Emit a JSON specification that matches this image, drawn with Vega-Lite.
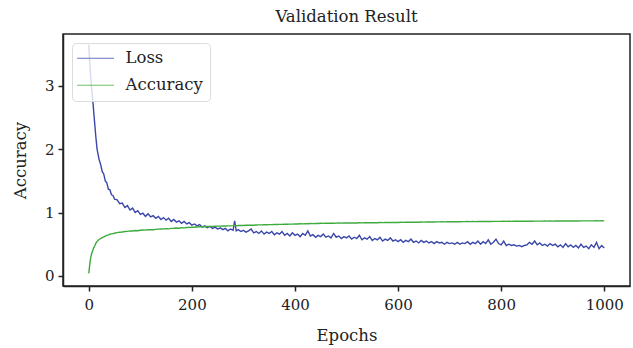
{
"$schema":"https://vega.github.io/schema/vega-lite/v6.json",
"width":567,"height":252,
"autosize":"none",
"padding":{"left":63,"top":34,"right":3,"bottom":62},
"title":{"text":"Validation Result","font":"DejaVu Serif","fontSize":16.5,"fontWeight":"normal","color":"#222","offset":9,"anchor":"middle"},
"data":{"values":[
{"epoch":0,"Loss":3.65,"Accuracy":0.04},
{"epoch":1,"Loss":3.50,"Accuracy":0.11},
{"epoch":2,"Loss":3.36,"Accuracy":0.19},
{"epoch":3,"Loss":3.22,"Accuracy":0.25},
{"epoch":4,"Loss":3.10,"Accuracy":0.30},
{"epoch":6,"Loss":2.92,"Accuracy":0.36},
{"epoch":8,"Loss":2.75,"Accuracy":0.41},
{"epoch":10,"Loss":2.55,"Accuracy":0.45},
{"epoch":12,"Loss":2.36,"Accuracy":0.48},
{"epoch":14,"Loss":2.17,"Accuracy":0.52},
{"epoch":16,"Loss":2.01,"Accuracy":0.54},
{"epoch":18,"Loss":1.92,"Accuracy":0.56},
{"epoch":20,"Loss":1.84,"Accuracy":0.575},
{"epoch":23,"Loss":1.76,"Accuracy":0.59},
{"epoch":26,"Loss":1.65,"Accuracy":0.603},
{"epoch":29,"Loss":1.61,"Accuracy":0.615},
{"epoch":32,"Loss":1.50,"Accuracy":0.628},
{"epoch":35,"Loss":1.47,"Accuracy":0.64},
{"epoch":38,"Loss":1.37,"Accuracy":0.648},
{"epoch":41,"Loss":1.36,"Accuracy":0.657},
{"epoch":44,"Loss":1.28,"Accuracy":0.663},
{"epoch":47,"Loss":1.27,"Accuracy":0.668},
{"epoch":50,"Loss":1.21,"Accuracy":0.673},
{"epoch":55,"Loss":1.20,"Accuracy":0.682},
{"epoch":60,"Loss":1.14,"Accuracy":0.69},
{"epoch":65,"Loss":1.15,"Accuracy":0.692},
{"epoch":70,"Loss":1.08,"Accuracy":0.70},
{"epoch":75,"Loss":1.11,"Accuracy":0.703},
{"epoch":80,"Loss":1.04,"Accuracy":0.71},
{"epoch":85,"Loss":1.07,"Accuracy":0.708},
{"epoch":90,"Loss":1.00,"Accuracy":0.716},
{"epoch":95,"Loss":1.03,"Accuracy":0.713},
{"epoch":100,"Loss":0.97,"Accuracy":0.72},
{"epoch":105,"Loss":0.99,"Accuracy":0.724},
{"epoch":110,"Loss":0.94,"Accuracy":0.722},
{"epoch":115,"Loss":0.98,"Accuracy":0.728},
{"epoch":120,"Loss":0.93,"Accuracy":0.731},
{"epoch":125,"Loss":0.95,"Accuracy":0.729},
{"epoch":130,"Loss":0.91,"Accuracy":0.735},
{"epoch":135,"Loss":0.94,"Accuracy":0.738},
{"epoch":140,"Loss":0.89,"Accuracy":0.74},
{"epoch":145,"Loss":0.92,"Accuracy":0.742},
{"epoch":150,"Loss":0.88,"Accuracy":0.745},
{"epoch":155,"Loss":0.91,"Accuracy":0.743},
{"epoch":160,"Loss":0.86,"Accuracy":0.75},
{"epoch":165,"Loss":0.89,"Accuracy":0.752},
{"epoch":170,"Loss":0.85,"Accuracy":0.755},
{"epoch":175,"Loss":0.87,"Accuracy":0.753},
{"epoch":180,"Loss":0.83,"Accuracy":0.76},
{"epoch":185,"Loss":0.86,"Accuracy":0.758},
{"epoch":190,"Loss":0.82,"Accuracy":0.763},
{"epoch":195,"Loss":0.84,"Accuracy":0.766},
{"epoch":200,"Loss":0.80,"Accuracy":0.77},
{"epoch":205,"Loss":0.82,"Accuracy":0.768},
{"epoch":210,"Loss":0.79,"Accuracy":0.772},
{"epoch":215,"Loss":0.81,"Accuracy":0.775},
{"epoch":220,"Loss":0.77,"Accuracy":0.778},
{"epoch":225,"Loss":0.79,"Accuracy":0.776},
{"epoch":230,"Loss":0.76,"Accuracy":0.78},
{"epoch":235,"Loss":0.78,"Accuracy":0.782},
{"epoch":240,"Loss":0.75,"Accuracy":0.781},
{"epoch":245,"Loss":0.77,"Accuracy":0.784},
{"epoch":250,"Loss":0.74,"Accuracy":0.786},
{"epoch":255,"Loss":0.76,"Accuracy":0.785},
{"epoch":260,"Loss":0.73,"Accuracy":0.788},
{"epoch":265,"Loss":0.75,"Accuracy":0.787},
{"epoch":270,"Loss":0.71,"Accuracy":0.79},
{"epoch":275,"Loss":0.74,"Accuracy":0.789},
{"epoch":280,"Loss":0.72,"Accuracy":0.793},
{"epoch":283,"Loss":0.87,"Accuracy":0.80},
{"epoch":286,"Loss":0.71,"Accuracy":0.79},
{"epoch":290,"Loss":0.73,"Accuracy":0.795},
{"epoch":295,"Loss":0.70,"Accuracy":0.797},
{"epoch":300,"Loss":0.72,"Accuracy":0.796},
{"epoch":305,"Loss":0.69,"Accuracy":0.80},
{"epoch":310,"Loss":0.71,"Accuracy":0.799},
{"epoch":315,"Loss":0.74,"Accuracy":0.802},
{"epoch":320,"Loss":0.68,"Accuracy":0.80},
{"epoch":325,"Loss":0.70,"Accuracy":0.804},
{"epoch":330,"Loss":0.67,"Accuracy":0.806},
{"epoch":335,"Loss":0.71,"Accuracy":0.805},
{"epoch":340,"Loss":0.66,"Accuracy":0.808},
{"epoch":345,"Loss":0.69,"Accuracy":0.807},
{"epoch":350,"Loss":0.67,"Accuracy":0.81},
{"epoch":355,"Loss":0.70,"Accuracy":0.809},
{"epoch":360,"Loss":0.65,"Accuracy":0.812},
{"epoch":365,"Loss":0.68,"Accuracy":0.811},
{"epoch":370,"Loss":0.66,"Accuracy":0.814},
{"epoch":375,"Loss":0.70,"Accuracy":0.813},
{"epoch":380,"Loss":0.64,"Accuracy":0.816},
{"epoch":385,"Loss":0.67,"Accuracy":0.815},
{"epoch":390,"Loss":0.63,"Accuracy":0.818},
{"epoch":395,"Loss":0.68,"Accuracy":0.817},
{"epoch":400,"Loss":0.64,"Accuracy":0.82},
{"epoch":405,"Loss":0.66,"Accuracy":0.819},
{"epoch":410,"Loss":0.62,"Accuracy":0.822},
{"epoch":415,"Loss":0.67,"Accuracy":0.821},
{"epoch":420,"Loss":0.64,"Accuracy":0.824},
{"epoch":425,"Loss":0.71,"Accuracy":0.823},
{"epoch":430,"Loss":0.63,"Accuracy":0.826},
{"epoch":435,"Loss":0.65,"Accuracy":0.825},
{"epoch":440,"Loss":0.61,"Accuracy":0.827},
{"epoch":445,"Loss":0.64,"Accuracy":0.828},
{"epoch":450,"Loss":0.62,"Accuracy":0.83},
{"epoch":455,"Loss":0.66,"Accuracy":0.829},
{"epoch":460,"Loss":0.61,"Accuracy":0.831},
{"epoch":465,"Loss":0.63,"Accuracy":0.83},
{"epoch":470,"Loss":0.60,"Accuracy":0.832},
{"epoch":475,"Loss":0.67,"Accuracy":0.831},
{"epoch":480,"Loss":0.61,"Accuracy":0.833},
{"epoch":485,"Loss":0.63,"Accuracy":0.834},
{"epoch":490,"Loss":0.59,"Accuracy":0.833},
{"epoch":495,"Loss":0.62,"Accuracy":0.835},
{"epoch":500,"Loss":0.60,"Accuracy":0.836},
{"epoch":505,"Loss":0.63,"Accuracy":0.834},
{"epoch":510,"Loss":0.58,"Accuracy":0.836},
{"epoch":515,"Loss":0.61,"Accuracy":0.837},
{"epoch":520,"Loss":0.59,"Accuracy":0.835},
{"epoch":525,"Loss":0.64,"Accuracy":0.838},
{"epoch":530,"Loss":0.57,"Accuracy":0.837},
{"epoch":535,"Loss":0.60,"Accuracy":0.839},
{"epoch":540,"Loss":0.58,"Accuracy":0.838},
{"epoch":545,"Loss":0.62,"Accuracy":0.84},
{"epoch":550,"Loss":0.56,"Accuracy":0.839},
{"epoch":555,"Loss":0.59,"Accuracy":0.841},
{"epoch":560,"Loss":0.57,"Accuracy":0.84},
{"epoch":565,"Loss":0.61,"Accuracy":0.842},
{"epoch":570,"Loss":0.55,"Accuracy":0.841},
{"epoch":575,"Loss":0.58,"Accuracy":0.843},
{"epoch":580,"Loss":0.56,"Accuracy":0.842},
{"epoch":585,"Loss":0.60,"Accuracy":0.844},
{"epoch":590,"Loss":0.55,"Accuracy":0.843},
{"epoch":595,"Loss":0.57,"Accuracy":0.845},
{"epoch":600,"Loss":0.54,"Accuracy":0.844},
{"epoch":605,"Loss":0.57,"Accuracy":0.846},
{"epoch":610,"Loss":0.53,"Accuracy":0.845},
{"epoch":615,"Loss":0.56,"Accuracy":0.847},
{"epoch":620,"Loss":0.54,"Accuracy":0.846},
{"epoch":625,"Loss":0.58,"Accuracy":0.848},
{"epoch":630,"Loss":0.53,"Accuracy":0.847},
{"epoch":635,"Loss":0.55,"Accuracy":0.849},
{"epoch":640,"Loss":0.52,"Accuracy":0.848},
{"epoch":645,"Loss":0.56,"Accuracy":0.85},
{"epoch":650,"Loss":0.53,"Accuracy":0.849},
{"epoch":655,"Loss":0.55,"Accuracy":0.851},
{"epoch":660,"Loss":0.52,"Accuracy":0.85},
{"epoch":665,"Loss":0.54,"Accuracy":0.852},
{"epoch":670,"Loss":0.51,"Accuracy":0.851},
{"epoch":675,"Loss":0.54,"Accuracy":0.853},
{"epoch":680,"Loss":0.52,"Accuracy":0.852},
{"epoch":685,"Loss":0.53,"Accuracy":0.854},
{"epoch":690,"Loss":0.50,"Accuracy":0.853},
{"epoch":695,"Loss":0.53,"Accuracy":0.855},
{"epoch":700,"Loss":0.51,"Accuracy":0.854},
{"epoch":705,"Loss":0.52,"Accuracy":0.856},
{"epoch":710,"Loss":0.50,"Accuracy":0.855},
{"epoch":715,"Loss":0.53,"Accuracy":0.856},
{"epoch":720,"Loss":0.50,"Accuracy":0.855},
{"epoch":725,"Loss":0.52,"Accuracy":0.857},
{"epoch":730,"Loss":0.51,"Accuracy":0.856},
{"epoch":735,"Loss":0.54,"Accuracy":0.858},
{"epoch":740,"Loss":0.50,"Accuracy":0.857},
{"epoch":745,"Loss":0.53,"Accuracy":0.858},
{"epoch":750,"Loss":0.51,"Accuracy":0.857},
{"epoch":755,"Loss":0.55,"Accuracy":0.859},
{"epoch":760,"Loss":0.50,"Accuracy":0.858},
{"epoch":765,"Loss":0.54,"Accuracy":0.86},
{"epoch":770,"Loss":0.51,"Accuracy":0.859},
{"epoch":775,"Loss":0.57,"Accuracy":0.86},
{"epoch":780,"Loss":0.50,"Accuracy":0.859},
{"epoch":785,"Loss":0.53,"Accuracy":0.861},
{"epoch":790,"Loss":0.58,"Accuracy":0.86},
{"epoch":795,"Loss":0.51,"Accuracy":0.861},
{"epoch":800,"Loss":0.49,"Accuracy":0.86},
{"epoch":805,"Loss":0.55,"Accuracy":0.862},
{"epoch":810,"Loss":0.48,"Accuracy":0.861},
{"epoch":815,"Loss":0.50,"Accuracy":0.862},
{"epoch":820,"Loss":0.48,"Accuracy":0.861},
{"epoch":825,"Loss":0.49,"Accuracy":0.863},
{"epoch":830,"Loss":0.47,"Accuracy":0.862},
{"epoch":835,"Loss":0.48,"Accuracy":0.863},
{"epoch":840,"Loss":0.46,"Accuracy":0.862},
{"epoch":845,"Loss":0.48,"Accuracy":0.864},
{"epoch":850,"Loss":0.49,"Accuracy":0.863},
{"epoch":855,"Loss":0.53,"Accuracy":0.864},
{"epoch":860,"Loss":0.50,"Accuracy":0.863},
{"epoch":865,"Loss":0.55,"Accuracy":0.865},
{"epoch":870,"Loss":0.49,"Accuracy":0.864},
{"epoch":875,"Loss":0.52,"Accuracy":0.865},
{"epoch":880,"Loss":0.48,"Accuracy":0.864},
{"epoch":885,"Loss":0.50,"Accuracy":0.866},
{"epoch":890,"Loss":0.47,"Accuracy":0.865},
{"epoch":895,"Loss":0.51,"Accuracy":0.866},
{"epoch":900,"Loss":0.48,"Accuracy":0.865},
{"epoch":905,"Loss":0.50,"Accuracy":0.867},
{"epoch":910,"Loss":0.46,"Accuracy":0.866},
{"epoch":915,"Loss":0.49,"Accuracy":0.867},
{"epoch":920,"Loss":0.45,"Accuracy":0.866},
{"epoch":925,"Loss":0.51,"Accuracy":0.868},
{"epoch":930,"Loss":0.46,"Accuracy":0.867},
{"epoch":935,"Loss":0.49,"Accuracy":0.868},
{"epoch":940,"Loss":0.45,"Accuracy":0.867},
{"epoch":945,"Loss":0.48,"Accuracy":0.868},
{"epoch":950,"Loss":0.44,"Accuracy":0.867},
{"epoch":955,"Loss":0.50,"Accuracy":0.869},
{"epoch":960,"Loss":0.45,"Accuracy":0.868},
{"epoch":965,"Loss":0.47,"Accuracy":0.869},
{"epoch":970,"Loss":0.43,"Accuracy":0.868},
{"epoch":975,"Loss":0.49,"Accuracy":0.869},
{"epoch":980,"Loss":0.45,"Accuracy":0.868},
{"epoch":985,"Loss":0.53,"Accuracy":0.87},
{"epoch":990,"Loss":0.43,"Accuracy":0.869},
{"epoch":995,"Loss":0.48,"Accuracy":0.87},
{"epoch":1000,"Loss":0.44,"Accuracy":0.868}
]},
"transform":[{"fold":["Loss","Accuracy"],"as":["series","value"]}],
"mark":{"type":"line","strokeWidth":1.4,"clip":true},
"encoding":{
"x":{"field":"epoch","type":"quantitative","scale":{"domain":[-50,1050],"nice":false,"zero":false},
"axis":{"values":[0,200,400,600,800,1000],"format":"d","title":"Epochs","grid":false,"labelPadding":6,"titlePadding":15}},
"y":{"field":"value","type":"quantitative","scale":{"domain":[-0.16,3.82],"nice":false,"zero":false},
"axis":{"values":[0,1,2,3],"title":"Accuracy","grid":false,"labelPadding":4,"titlePadding":16}},
"color":{"field":"series","type":"nominal","sort":["Loss","Accuracy"],
"scale":{"domain":["Loss","Accuracy"],"range":["#3a47aa","#3daa3d"]},
"legend":{"title":null,"orient":"none","legendX":9,"legendY":9,"symbolType":"M-2.2,0H5.8","symbolSize":85,"symbolStrokeWidth":1.2,"symbolOpacity":0.75,"labelOffset":30,"rowPadding":10,"padding":7,"cornerRadius":4,"strokeColor":"#dcdcdc","fillColor":"rgba(255,255,255,0.8)","labelFont":"DejaVu Serif","labelFontSize":16.5,"labelColor":"#222"}}
},
"config":{
"view":{"stroke":"#222","strokeWidth":1.5},
"axis":{"domainColor":"#222","domainWidth":1.5,"tickColor":"#222","tickWidth":1.5,"tickSize":5,"labelFont":"DejaVu Serif","labelFontSize":15,"labelColor":"#222","titleFont":"DejaVu Serif","titleFontSize":16.5,"titleFontWeight":"normal","titleColor":"#222"}
}
}
